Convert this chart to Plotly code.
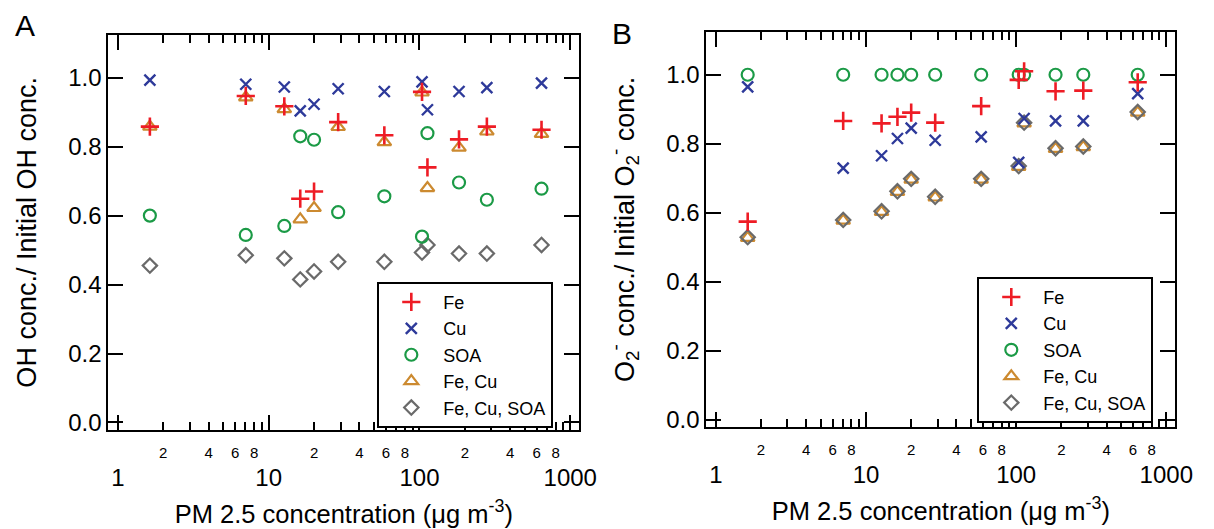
import plotly.graph_objects as go

# ---- data ----
pm25 = [1.63, 7.05, 12.7, 16.2, 20.0, 28.9, 58.5, 104, 113, 183, 280, 645]

oh_fe = [0.858, 0.947, 0.917, 0.649, 0.670, 0.871, 0.833, 0.959, 0.740, 0.821, 0.858, 0.849]
oh_cu = [0.993, 0.981, 0.973, 0.904, 0.923, 0.968, 0.960, 0.988, 0.907, 0.960, 0.971, 0.984]
oh_soa = [0.600, 0.544, 0.570, 0.830, 0.820, 0.610, 0.656, 0.539, 0.839, 0.696, 0.646, 0.678]
oh_fecu = [0.858, 0.943, 0.909, 0.589, 0.622, 0.857, 0.813, 0.957, 0.680, 0.797, 0.844, 0.837]
oh_fecusoa = [0.455, 0.485, 0.476, 0.415, 0.438, 0.466, 0.466, 0.493, 0.515, 0.490, 0.490, 0.515]

o2_fe = [0.574, 0.866, 0.859, 0.878, 0.890, 0.861, 0.909, 0.985, 1.010, 0.952, 0.954, 0.978]
o2_cu = [0.965, 0.729, 0.765, 0.815, 0.845, 0.810, 0.820, 0.746, 0.873, 0.866, 0.866, 0.945]
o2_soa = [1.000, 1.000, 1.000, 1.000, 1.000, 1.000, 1.000, 1.000, 1.000, 1.000, 1.000, 1.000]
o2_fecu = [0.527, 0.577, 0.602, 0.660, 0.696, 0.644, 0.696, 0.733, 0.859, 0.785, 0.790, 0.890]
o2_fecusoa = [0.529, 0.579, 0.604, 0.662, 0.698, 0.646, 0.698, 0.735, 0.861, 0.787, 0.792, 0.892]

series_names = ["Fe", "Cu", "SOA", "Fe, Cu", "Fe, Cu, SOA"]
major_x = [1, 10, 100, 1000]
major_x_text = ["1", "10", "100", "1000"]
minor_x = [2, 3, 4, 5, 6, 7, 8, 9, 20, 30, 40, 50, 60, 70, 80, 90, 200, 300, 400, 500, 600, 700, 800, 900]
digit_x = [2, 4, 6, 8, 20, 40, 60, 80, 200, 400, 600, 800]
digit_text = ["2", "4", "6", "8", "2", "4", "6", "8", "2", "4", "6", "8"]
y_ticks = [0.0, 0.2, 0.4, 0.6, 0.8, 1.0]

FONT = "Liberation Sans, Arial, sans-serif"
RED = "#ee1c25"
BLUE = "#2e3a9a"
GREEN = "#1b9a46"
ORANGE = "#cc8a30"
GREY = "#6a6a6a"

styles = {
    "Fe": dict(symbol="cross-thin-open", size=13, line=dict(color=RED, width=2.6), color=RED),
    "Cu": dict(symbol="x-thin-open", size=11, line=dict(color=BLUE, width=2.4), color=BLUE),
    "SOA": dict(symbol="circle-open", size=12, line=dict(color=GREEN, width=2.2), color=GREEN),
    "Fe, Cu": dict(symbol="triangle-up-open", size=12, line=dict(color=ORANGE, width=2.2), color=ORANGE),
    "Fe, Cu, SOA": dict(symbol="diamond-open", size=11, line=dict(color=GREY, width=2.2), color=GREY),
}
rank = {n: i + 1 for i, n in enumerate(series_names)}

fig = go.Figure()

panels = [
    ("x", "y", "legend", {"Fe": oh_fe, "Cu": oh_cu, "SOA": oh_soa, "Fe, Cu": oh_fecu, "Fe, Cu, SOA": oh_fecusoa}),
    ("x2", "y2", "legend2", {"Fe": o2_fe, "Cu": o2_cu, "SOA": o2_soa, "Fe, Cu": o2_fecu, "Fe, Cu, SOA": o2_fecusoa}),
]
draw_order = ["Fe, Cu", "Fe, Cu, SOA", "SOA", "Cu", "Fe"]
for xa, ya, leg, data in panels:
    for name in draw_order:
        fig.add_trace(go.Scatter(
            x=pm25, y=data[name], mode="markers", name=name,
            marker=styles[name], xaxis=xa, yaxis=ya, legend=leg,
            legendrank=rank[name], showlegend=True,
        ))

# empty traces so the overlaid axes that carry the 2/4/6/8 labels get drawn
for xa, ya in (("x3", "y"), ("x4", "y2")):
    fig.add_trace(go.Scatter(x=digit_x, y=[None] * len(digit_x), mode="markers",
                             xaxis=xa, yaxis=ya, showlegend=False, hoverinfo="skip"))

W, H = 1214, 529
xdomA = [110 / W, 588 / W]
xdomB = [717 / W, 1193 / W]
ydomA = [1 - 435 / H, 1 - 35 / H]
ydomB = [1 - 432 / H, 1 - 32 / H]
xrange_log = [-0.063, 3.06]
yrange = [-0.022, 1.125]

def xaxis_cfg(domain, anchor):
    return dict(
        type="log", domain=domain, anchor=anchor, range=xrange_log,
        tickmode="array", tickvals=major_x, ticktext=major_x_text,
        ticks="inside", ticklen=15, tickwidth=2, tickcolor="black",
        showline=True, linewidth=2, linecolor="black", mirror="ticks",
        showgrid=False, zeroline=False,
        tickfont=dict(family=FONT, size=24, color="black"),
        ticklabelstandoff=25,
        minor=dict(tickmode="array", tickvals=minor_x, ticks="inside", ticklen=8,
                   tickwidth=2, tickcolor="black", showgrid=False),
        title=dict(text="PM 2.5 concentration (\u03bcg m<sup>-3</sup>)",
                   font=dict(family=FONT, size=25.5, color="black"), standoff=15),
    )

def digit_axis(over, anchor, domain):
    return dict(
        type="log", overlaying=over, anchor=anchor, domain=domain, range=xrange_log,
        side="bottom", tickmode="array", tickvals=digit_x, ticktext=digit_text,
        ticks="", showline=False, showgrid=False, zeroline=False,
        tickfont=dict(family=FONT, size=15, color="black"),
        ticklabelstandoff=12,
    )

def yaxis_cfg(domain, anchor, title):
    return dict(
        domain=domain, anchor=anchor, range=yrange,
        tickmode="array", tickvals=y_ticks, tickformat=".1f",
        ticks="inside", ticklen=15, tickwidth=2, tickcolor="black",
        showline=True, linewidth=2, linecolor="black", mirror="ticks",
        showgrid=False, zeroline=False,
        tickfont=dict(family=FONT, size=24, color="black"),
        title=dict(text=title, font=dict(family=FONT, size=27, color="black"), standoff=24),
    )

legend_common = dict(
    bgcolor="white", bordercolor="black", borderwidth=2,
    font=dict(family=FONT, size=18, color="black"),
    xanchor="left", yanchor="top", traceorder="normal",
    itemwidth=54,
)

fig.update_layout(
    width=W, height=H,
    margin=dict(l=0, r=0, t=0, b=0),
    paper_bgcolor="white", plot_bgcolor="white",
    font=dict(family=FONT, color="black"),
    xaxis=xaxis_cfg(xdomA, "y"),
    xaxis2=xaxis_cfg(xdomB, "y2"),
    xaxis3=digit_axis("x", "y", xdomA),
    xaxis4=digit_axis("x2", "y2", xdomB),
    yaxis=yaxis_cfg(ydomA, "x", "OH conc./ Initial OH conc."),
    yaxis2=yaxis_cfg(ydomB, "x2", "O<sub>2</sub><sup>-</sup> conc./ Initial O<sub>2</sub><sup>-</sup> conc."),
    legend=dict(x=383 / W, y=1 - 285 / H, **legend_common),
    legend2=dict(x=992 / W, y=1 - 280 / H, **legend_common),
    annotations=[
        dict(text="A", x=25 / W, y=1 - 26 / H, xref="paper", yref="paper", showarrow=False,
             font=dict(family=FONT, size=30, color="black"), xanchor="center", yanchor="middle"),
        dict(text="B", x=631 / W, y=1 - 34 / H, xref="paper", yref="paper", showarrow=False,
             font=dict(family=FONT, size=30, color="black"), xanchor="center", yanchor="middle"),
    ],
)

fig.write_html("out.html")
